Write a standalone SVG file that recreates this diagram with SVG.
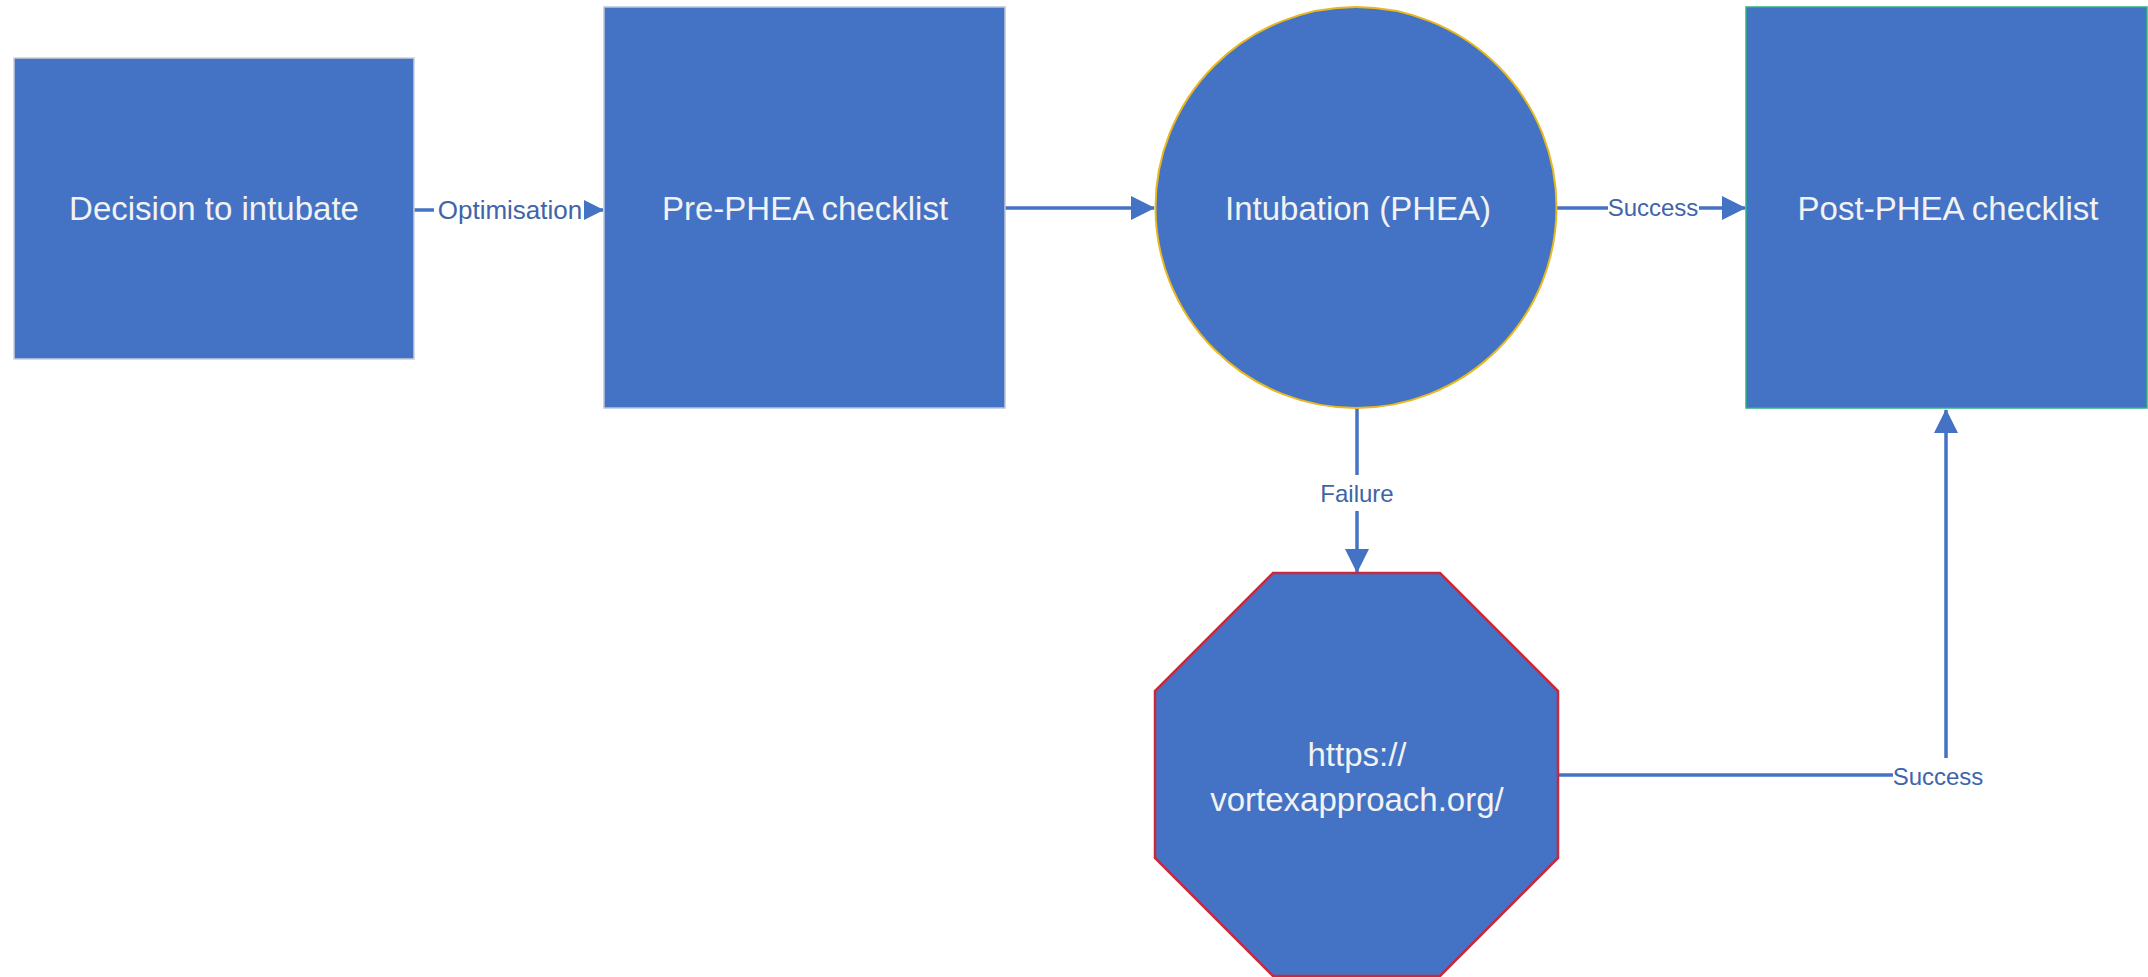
<svg xmlns="http://www.w3.org/2000/svg" width="2148" height="977" viewBox="0 0 2148 977">
  <style>
    .shape { fill: #4472C4; }
    .ntext { font-family: "Liberation Sans", Arial, sans-serif; font-size: 33px; fill: #F2F2F2; text-anchor: middle; }
    .conn { fill: none; stroke: #4472C4; stroke-width: 3.5; }
    .lbg { fill: #FFFFFF; }
    .ltext { font-family: "Liberation Sans", Arial, sans-serif; font-size: 24px; fill: #4064A8; text-anchor: middle; }
  </style>
  <defs>
    <marker id="arrow" markerUnits="userSpaceOnUse" markerWidth="24" markerHeight="24" refX="23" refY="12" orient="auto">
      <path d="M0,0 L24,12 L0,24 Z" fill="#4472C4"/>
    </marker>
  </defs>
  <rect width="2148" height="977" fill="#FFFFFF"/>

  <g id="connectors">
    <g id="c-optimisation">
      <line class="conn" x1="414" y1="210" x2="603" y2="210" marker-end="url(#arrow)"/>
      <rect class="lbg" x="434" y="196" width="150" height="28"/>
      <text class="ltext" x="510" y="219" style="font-size:26px">Optimisation</text>
    </g>
    <g id="c-pre-intub">
      <line class="conn" x1="1005" y1="208" x2="1154" y2="208" marker-end="url(#arrow)"/>
    </g>
    <g id="c-success-top">
      <line class="conn" x1="1557" y1="208" x2="1745" y2="208" marker-end="url(#arrow)"/>
      <rect class="lbg" x="1608" y="194" width="91" height="28"/>
      <text class="ltext" x="1653" y="216">Success</text>
    </g>
    <g id="c-failure">
      <line class="conn" x1="1357" y1="408" x2="1357" y2="572" marker-end="url(#arrow)"/>
      <rect class="lbg" x="1317" y="475" width="80" height="36"/>
      <text class="ltext" x="1357" y="502">Failure</text>
    </g>
    <g id="c-success-bottom">
      <path class="conn" d="M1558,775 L1946,775 L1946,410" marker-end="url(#arrow)"/>
      <rect class="lbg" x="1893" y="758" width="90" height="32"/>
      <text class="ltext" x="1938" y="785">Success</text>
    </g>
  </g>

  <g id="n-decision">
    <rect class="shape" x="14" y="58" width="400" height="301" stroke="#C9CED8" stroke-width="1.5"/>
    <text class="ntext" x="214" y="220">Decision to intubate</text>
  </g>
  <g id="n-pre">
    <rect class="shape" x="604" y="7" width="401" height="401" stroke="#BCC6DA" stroke-width="1.5"/>
    <text class="ntext" x="805" y="220">Pre-PHEA checklist</text>
  </g>
  <g id="n-intubation">
    <circle class="shape" cx="1356" cy="207.5" r="200.5" stroke="#E8B820" stroke-width="2"/>
    <text class="ntext" x="1358" y="220">Intubation (PHEA)</text>
  </g>
  <g id="n-post">
    <rect class="shape" x="1746" y="7" width="401" height="401" stroke="#2DB37A" stroke-width="1.5"/>
    <text class="ntext" x="1948" y="220">Post-PHEA checklist</text>
  </g>
  <g id="n-vortex">
    <polygon class="shape" points="1273,573 1440,573 1558,691 1558,858 1440,976 1273,976 1155,858 1155,691" stroke="#C8283C" stroke-width="2.5"/>
    <text class="ntext" x="1357" y="766">https://</text>
    <text class="ntext" x="1357" y="811">vortexapproach.org/</text>
  </g>
</svg>
